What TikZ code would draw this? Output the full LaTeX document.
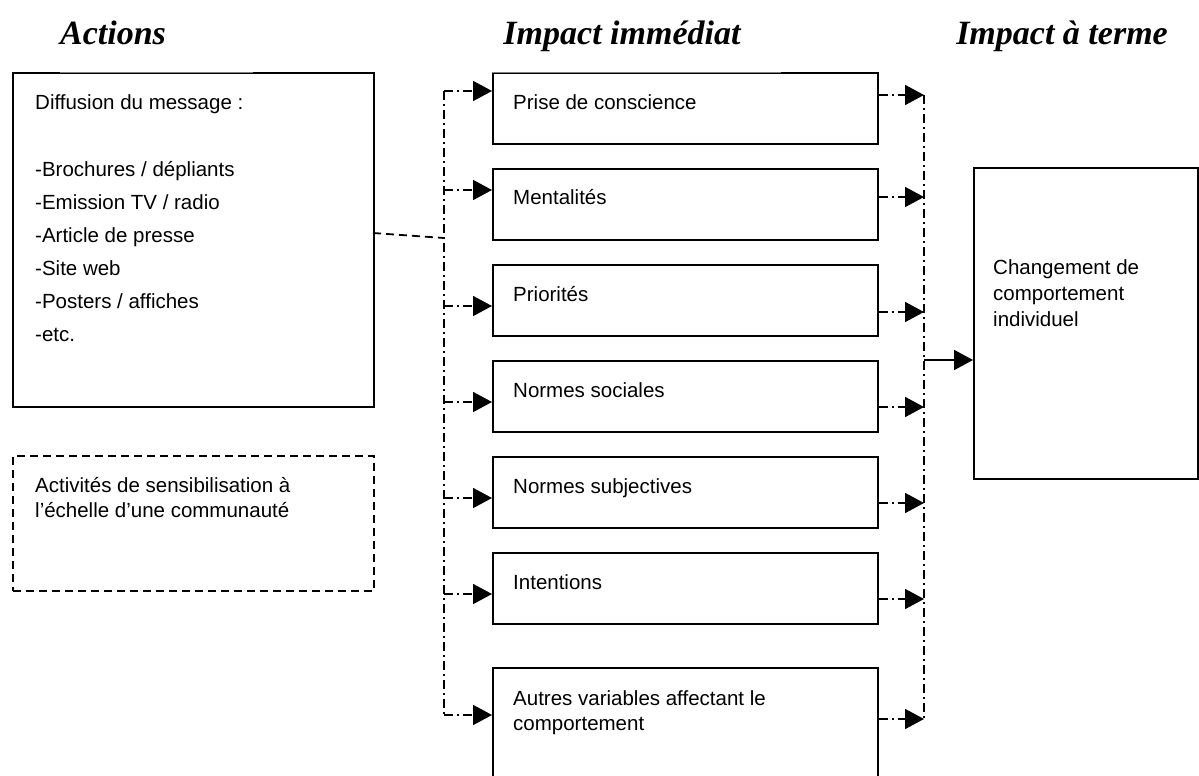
\documentclass[tikz,border=0pt]{standalone}
\usepackage{fontspec}
\setmainfont{Liberation Serif}
\setsansfont{Liberation Sans}
\usetikzlibrary{arrows.meta}
\begin{document}
\begin{tikzpicture}[x=1pt,y=-1pt,
  box/.style={draw, line width=1.8pt, anchor=north west, inner sep=0pt},
  dbox/.style={draw, line width=1.8pt, dash pattern=on 8pt off 5pt, anchor=north west, inner sep=0pt},
  txt/.style={anchor=base west, inner sep=0pt, font=\sffamily\fontsize{20.5}{25}\selectfont},
  ttl/.style={anchor=base, inner sep=0pt, font=\rmfamily\bfseries\itshape\fontsize{34}{40}\selectfont},
  dd/.style={line width=1.8pt, dash pattern=on 9pt off 4pt on 2pt off 4pt},
  arr/.style={-{Triangle[length=19pt,width=20pt]}},
]
\useasboundingbox (0,0) rectangle (1199,776);
% titles
\node[ttl] (t1) at (113,45) {Actions};
\node[ttl] (t2) at (622,45) {Impact immédiat};
\node[ttl] (t3) at (1062,45) {Impact à terme};
% left boxes
\node[box, minimum width=361pt, minimum height=334pt] (A) at (12,72) {};
\draw[white, line width=2.4pt] (60,72) -- (253,72);
\draw[gray, line width=0.7pt] (60,72) -- (253,72);
\node[txt] (a0) at (35,109) {Diffusion du message :};
\node[txt] (a1) at (35,176) {-Brochures / dépliants};
\node[txt] (a2) at (35,209) {-Emission TV / radio};
\node[txt] (a3) at (35,242) {-Article de presse};
\node[txt] (a4) at (35,275) {-Site web};
\node[txt] (a5) at (35,308) {-Posters / affiches};
\node[txt] (a6) at (35,341) {-etc.};
\node[dbox, minimum width=361pt, minimum height=135pt] (B) at (12,455) {};
\node[txt] (b0) at (35,492) {Activités de sensibilisation à};
\node[txt] (b1) at (35,517) {l’échelle d’une communauté};
% middle boxes
\node[box, minimum width=385pt, minimum height=71pt] (m1) at (492,72) {};
\draw[white, line width=2.4pt] (493.2,72) -- (781,72);
\draw[gray, line width=0.7pt] (492,72) -- (781,72);
\node[box, minimum width=385pt, minimum height=71pt] (m2) at (492,168) {};
\node[box, minimum width=385pt, minimum height=71pt] (m3) at (492,264) {};
\node[box, minimum width=385pt, minimum height=71pt] (m4) at (492,360) {};
\node[box, minimum width=385pt, minimum height=71pt] (m5) at (492,456) {};
\node[box, minimum width=385pt, minimum height=71pt] (m6) at (492,552) {};
\node[box, minimum width=385pt, minimum height=115pt] (m7) at (492,667) {};
\node[txt] (n1) at (513,109) {Prise de conscience};
\node[txt] (n2) at (513,204) {Mentalités};
\node[txt] (n3) at (513,301) {Priorités};
\node[txt] (n4) at (513,397) {Normes sociales};
\node[txt] (n5) at (513,493) {Normes subjectives};
\node[txt] (n6) at (513,589) {Intentions};
\node[txt] (n7a) at (513,705) {Autres variables affectant le};
\node[txt] (n7b) at (513,730) {comportement};
% right box
\node[box, minimum width=224pt, minimum height=311pt] (C) at (973,167) {};
\node[txt] (c0) at (993,274) {Changement de};
\node[txt] (c1) at (993,300) {comportement};
\node[txt] (c2) at (993,326) {individuel};
% left bus
\coordinate (L0) at (444,238);
\coordinate (L1) at (444,91);
\coordinate (L2) at (444,190);
\coordinate (L3) at (444,306);
\coordinate (L4) at (444,402);
\coordinate (L5) at (444,498);
\coordinate (L6) at (444,594);
\coordinate (L7) at (444,715);
\draw[line width=1.8pt, dash pattern=on 8pt off 5pt] (373,233) -- (L0);
\draw[dd] (L1) -- (L7);
\foreach \i in {1,...,7} {\draw[dd,arr] (L\i) -- (L\i -| m\i.west);}
% right bus
\coordinate (R1) at (924,95);
\coordinate (R2) at (924,197);
\coordinate (R3) at (924,312);
\coordinate (R4) at (924,407);
\coordinate (R5) at (924,503);
\coordinate (R6) at (924,599);
\coordinate (R7) at (924,719);
\coordinate (R0) at (924,360);
\draw[dd] (R1) -- (R7);
\foreach \i in {1,...,7} {\draw[dd,arr] (R\i -| m\i.east) -- (R\i);}
\draw[line width=1.8pt, arr] (R0) -- (R0 -| C.west);
\end{tikzpicture}
\end{document}
